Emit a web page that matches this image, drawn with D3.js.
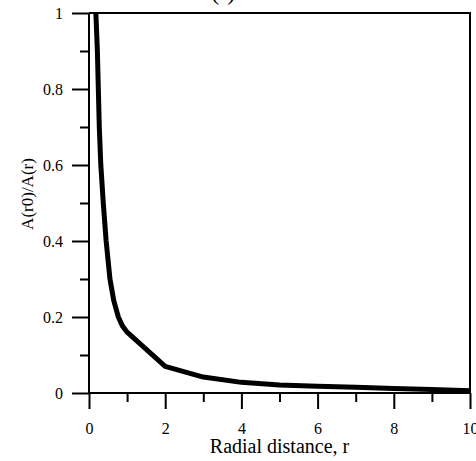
<!DOCTYPE html>
<html>
<head>
<meta charset="utf-8">
<script src="https://cdn.jsdelivr.net/npm/d3@7"></script>
<style>
  body { margin: 0; background: #fff; }
  svg text { font-family: "Liberation Serif", "Times New Roman", serif; fill: #000; }
</style>
</head>
<body>
<svg id="chart" width="476" height="461"></svg>
<script>
// radial distance r and the ratio A(r0)/A(r)
var radius = [0.18, 0.22, 0.245, 0.27, 0.31, 0.375, 0.45, 0.55, 0.65, 0.77, 0.88, 1, 2, 3, 4, 5, 6, 7, 8, 9, 10];
var ratio = [1.0, 0.9, 0.8, 0.7, 0.6, 0.5, 0.4, 0.3, 0.243, 0.2, 0.176, 0.16, 0.07, 0.042, 0.028, 0.021, 0.018, 0.015, 0.012, 0.009, 0.006];
var xMajor = [0, 2, 4, 6, 8, 10];
var xMinor = [1, 3, 5, 7, 9];
var yMajor = [0, 0.2, 0.4, 0.6, 0.8, 1];
var yMinor = [0.1, 0.3, 0.5, 0.7, 0.9];
var yLabels = ['0', '0.2', '0.4', '0.6', '0.8', '1'];

function buildChart() {
  var svg = d3.select('#chart');
  var plot = { l: 89, r: 470, t: 13, b: 393 };

  var x = d3.scaleLinear().domain([0, 10]).range([plot.l, plot.r]);
  var y = d3.scaleLinear().domain([0, 1]).range([plot.b, plot.t]);

  // cut-off title at the very top
  svg.append('text')
    .attr('x', 194).attr('y', 0)
    .attr('font-size', 24)
    .text('A(r)');

  // frame (top and right)
  svg.append('path')
    .attr('d', 'M' + plot.l + ',' + plot.t + 'H' + plot.r + 'V' + plot.b)
    .attr('fill', 'none').attr('stroke', '#000').attr('stroke-width', 2);

  // y axis
  var yAxisG = svg.append('g').attr('transform', 'translate(' + plot.l + ',0)');
  yAxisG.call(d3.axisLeft(y).tickValues(yMajor).tickSize(17).tickPadding(9)
    .tickFormat(function(d, i) { return yLabels[i]; }));
  yAxisG.append('g').call(d3.axisLeft(y).tickValues(yMinor).tickSize(9).tickFormat(''));

  // x axis
  var xAxisG = svg.append('g').attr('transform', 'translate(0,' + plot.b + ')');
  xAxisG.call(d3.axisBottom(x).tickValues(xMajor).tickSize(16).tickPadding(14));
  xAxisG.append('g').call(d3.axisBottom(x).tickValues(xMinor).tickSize(9).tickFormat(''));

  svg.selectAll('.domain').attr('stroke-width', 2);
  svg.selectAll('.tick line').attr('stroke-width', 2);
  svg.selectAll('.tick text').attr('font-size', 16).attr('font-family', '"Liberation Serif", serif');
  yAxisG.selectAll('g > g > .domain').remove();
  xAxisG.selectAll('g > g > .domain').remove();
  yAxisG.select('.domain').attr('d', 'M0,' + plot.t + 'V' + plot.b);
  xAxisG.select('.domain').attr('d', 'M' + plot.l + ',0H' + plot.r);

  // curve
  var line = d3.line()
    .x(function(d, i) { return x(radius[i]); })
    .y(function(d) { return y(d); });

  svg.append('clipPath').attr('id', 'clip')
    .append('rect')
    .attr('x', plot.l).attr('y', plot.t)
    .attr('width', plot.r - plot.l + 3).attr('height', plot.b - plot.t);

  svg.append('path')
    .attr('clip-path', 'url(#clip)')
    .attr('d', line(ratio))
    .attr('fill', 'none')
    .attr('stroke', '#000')
    .attr('stroke-width', 5)
    .attr('stroke-linejoin', 'round');

  // axis titles
  svg.append('text')
    .attr('x', (plot.l + plot.r) / 2).attr('y', 453)
    .attr('text-anchor', 'middle')
    .attr('font-size', 20)
    .text('Radial distance, r');

  svg.append('text')
    .attr('transform', 'translate(33,194) rotate(-90)')
    .attr('text-anchor', 'middle')
    .attr('font-size', 17)
    .text('A(r0)/A(r)');
}

buildChart();
</script>
</body>
</html>
